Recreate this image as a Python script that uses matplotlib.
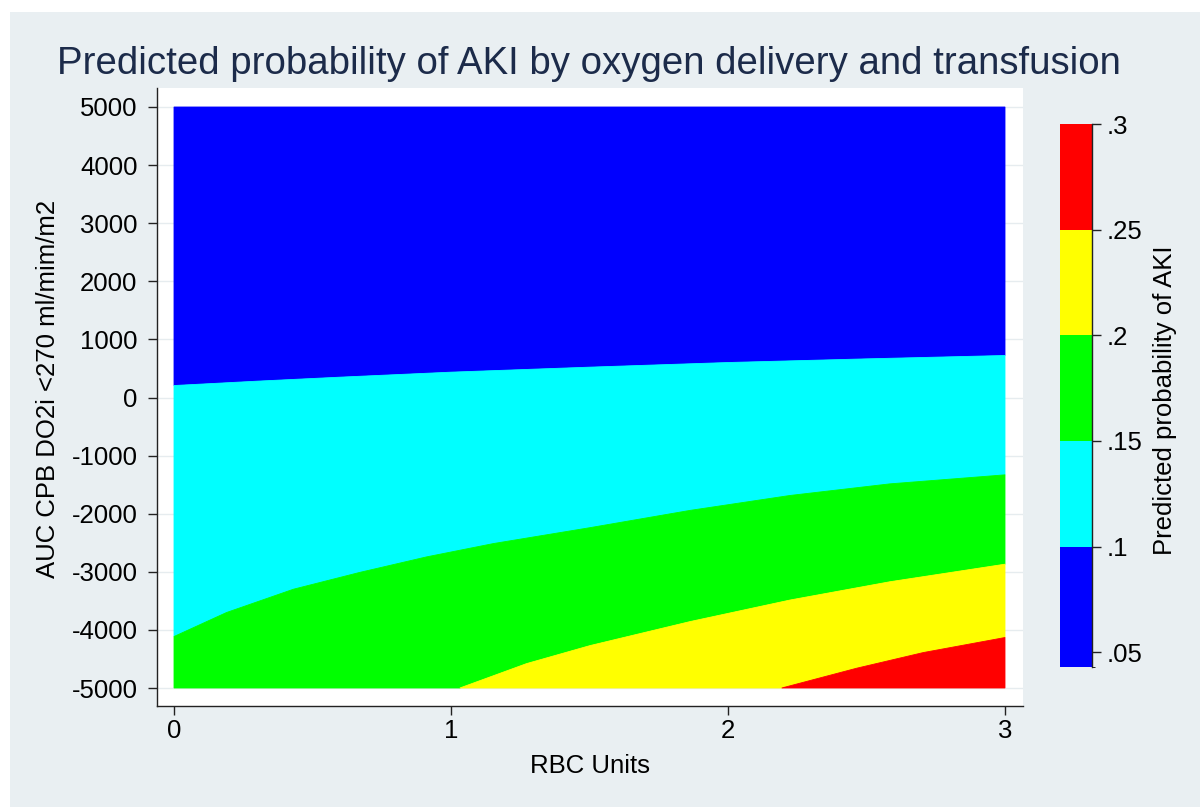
import matplotlib
matplotlib.use("Agg")
import matplotlib.pyplot as plt
from matplotlib.colors import ListedColormap, BoundaryNorm
from matplotlib.cm import ScalarMappable
from matplotlib.patches import Rectangle

plt.rcParams['font.family'] = ['Liberation Sans', 'DejaVu Sans']

# ---- data ----
# contour boundaries (RBC units, AUC DO2i) between probability bands
b10_x = [0.0, 0.3, 0.6, 1.0, 1.5, 2.0, 2.5, 3.0]
b10_y = [206, 281, 350, 436, 522, 602, 665, 723]

b15_x = [0.0, 0.19, 0.431, 0.671, 0.912, 1.153, 1.502, 1.863, 2.224, 2.585, 3.0]
b15_y = [-4114, -3700, -3300, -3010, -2743, -2514, -2240, -1943, -1686, -1486, -1331]

b20_x = [1.032, 1.273, 1.502, 1.863, 2.224, 2.585, 3.0]
b20_y = [-5000, -4580, -4270, -3857, -3486, -3171, -2869]

b25_x = [2.194, 2.464, 2.705, 3.0]
b25_y = [-5000, -4660, -4390, -4131]

x_range = [0.0, 3.0]
y_range = [-5000, 5000]

levels = [0.043, 0.10, 0.15, 0.20, 0.25, 0.30]
band_colors = ['#0000FF', '#00FFFF', '#00FF00', '#FFFF00', '#FF0000']
cb_ticks = [0.05, 0.10, 0.15, 0.20, 0.25, 0.30]
cb_ticklabels = ['.05', '.1', '.15', '.2', '.25', '.3']
x_ticks = [0, 1, 2, 3]
y_ticks = [5000, 4000, 3000, 2000, 1000, 0, -1000, -2000, -3000, -4000, -5000]

title = "Predicted probability of AKI by oxygen delivery and transfusion"
xlabel = "RBC Units"
ylabel = "AUC CPB DO2i <270 ml/mim/m2"
cblabel = "Predicted probability of AKI"

# ---- figure ----
W, H = 1200, 807
fig = plt.figure(figsize=(W / 100, H / 100), dpi=100, facecolor='white')
bg = '#E9EFF2'
fig.patches.append(Rectangle((10 / W, 0), 1 - 10 / W, 1 - 12 / H,
                             transform=fig.transFigure, facecolor=bg,
                             edgecolor='none', zorder=-10))

ax = fig.add_axes([157 / W, 1 - 706 / H, (1023 - 157) / W, (706 - 88) / H])
ax.set_facecolor('white')

x0, x1 = x_range
y0, y1 = y_range

def poly(xs, ys, color):
    ax.fill(xs, ys, facecolor=color, edgecolor=color, linewidth=0.6,
            zorder=2, antialiased=True)

# blue band (top)
poly(b10_x + [x1, x0], b10_y + [y1, y1], band_colors[0])
# cyan band
poly(b10_x + b15_x[::-1], b10_y + b15_y[::-1], band_colors[1])
# green band
poly(b15_x + b20_x[::-1] + [x0], b15_y + b20_y[::-1] + [y0], band_colors[2])
# yellow band
poly(b20_x + b25_x[::-1], b20_y + b25_y[::-1], band_colors[3])
# red band
poly(b25_x + [x1], b25_y + [y0], band_colors[4])

ax.set_xlim(-17 / 277, 3 + 18 / 277)
ax.set_ylim(-5000 - 18 / 0.0581, 5000 + 19 / 0.0581)
ax.set_xticks(x_ticks)
ax.set_yticks(y_ticks)
ax.set_yticklabels([str(v) for v in y_ticks])
ax.grid(axis='y', color='#E6ECEF', linewidth=1.0, zorder=0)
ax.set_axisbelow(True)
for s in ['top', 'right']:
    ax.spines[s].set_visible(False)
for s in ['left', 'bottom']:
    ax.spines[s].set_color('#222222')
    ax.spines[s].set_linewidth(1.0)
ax.tick_params(axis='both', direction='out', length=6.5, width=1.0,
               color='#222222', labelsize=18.5, labelcolor='black')
ax.tick_params(axis='x', pad=3)
ax.tick_params(axis='y', pad=7.5)

fig.text(589 / W, 1 - 74 / H, title, ha='center', va='baseline',
         fontsize=27.6, color='#1C2B4A')
fig.text(590 / W, 1 - 766 / H, xlabel, ha='center', va='center',
         fontsize=18.5, color='black')
fig.text(48 / W, 1 - 389 / H, ylabel, ha='center', va='center',
         rotation=90, fontsize=18.5, color='black')

# ---- colour legend ----
cax = fig.add_axes([1060 / W, 1 - 667 / H, 32 / W, (667 - 124) / H])
cmap = ListedColormap(band_colors)
norm = BoundaryNorm(levels, cmap.N)
cb = fig.colorbar(ScalarMappable(norm=norm, cmap=cmap), cax=cax,
                  ticks=cb_ticks, spacing='proportional')
cb.outline.set_visible(False)
cax.set_yticklabels(cb_ticklabels)
cax.tick_params(axis='y', direction='out', length=6.5, width=1.0,
                color='#222222', labelsize=18.5, pad=4)
cax.plot([1, 1], [levels[0], levels[-1]], color='#222222', linewidth=1.0,
         clip_on=False)
cax.set_xlim(0, 1)
fig.text(1165 / W, 1 - 400 / H, cblabel, ha='center', va='center',
         rotation=90, fontsize=18.5, color='black')

fig.savefig('out.png', dpi=100, facecolor='white')
